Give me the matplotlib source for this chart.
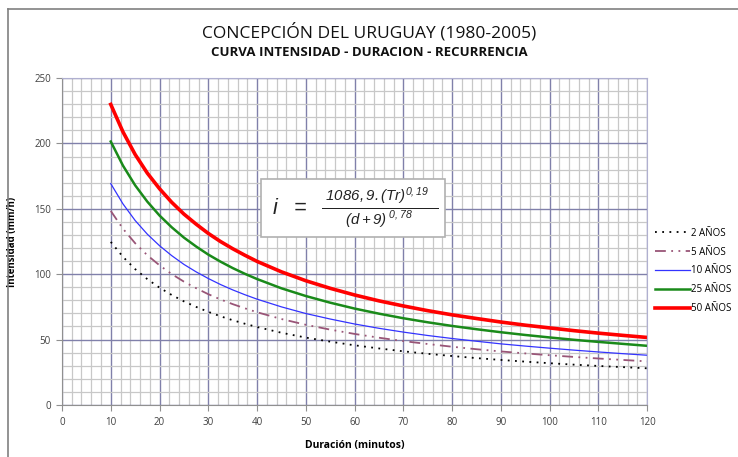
import matplotlib.pyplot as plt
from matplotlib.lines import Line2D
from matplotlib.ticker import MultipleLocator

# duracion (minutos) y intensidad (mm/h)
duracion = [10, 12.5, 15, 17.5, 20, 22.5, 25, 27.5, 30, 32.5, 35, 37.5, 40, 45, 50, 55, 60, 65, 70, 75,
            80, 85, 90, 95, 100, 105, 110, 115, 120]
tr2 = [124.7, 113.3, 103.9, 96.2, 89.7, 84.1, 79.2, 75.0, 71.2, 67.8, 64.8, 62.1, 59.6, 55.2, 51.5, 48.4,
       45.6, 43.2, 41.0, 39.1, 37.4, 35.8, 34.4, 33.1, 31.9, 30.8, 29.8, 28.9, 28.0]
tr5 = [148.4, 134.8, 123.7, 114.5, 106.8, 100.1, 94.3, 89.3, 84.7, 80.7, 77.1, 73.9, 70.9, 65.7, 61.3, 57.6,
       54.3, 51.4, 48.8, 46.6, 44.5, 42.6, 40.9, 39.4, 38.0, 36.7, 35.5, 34.4, 33.3]
tr10 = [169.3, 153.8, 141.1, 130.6, 121.8, 114.2, 107.5, 101.8, 96.7, 92.1, 88.0, 84.3, 80.9, 75.0, 69.9, 65.7,
        61.9, 58.6, 55.7, 53.1, 50.8, 48.7, 46.7, 45.0, 43.4, 41.9, 40.5, 39.2, 38.0]
tr25 = [201.5, 183.1, 168.0, 155.5, 144.9, 135.9, 128.0, 121.2, 115.0, 109.6, 104.7, 100.3, 96.3, 89.2, 83.3, 78.2,
        73.7, 69.8, 66.3, 63.2, 60.4, 57.9, 55.6, 53.5, 51.6, 49.8, 48.2, 46.7, 45.2]
tr50 = [229.9, 208.9, 191.6, 177.3, 165.4, 155.0, 146.0, 138.3, 131.2, 125.0, 119.5, 114.5, 109.8, 101.8, 95.0, 89.2,
        84.1, 79.6, 75.7, 72.1, 68.9, 66.1, 63.4, 61.0, 58.9, 56.8, 54.9, 53.2, 51.6]
etiquetas = ['2 AÑOS', '5 AÑOS', '10 AÑOS', '25 AÑOS', '50 AÑOS']

plt.rcParams['font.family'] = ['Open Sans', 'DejaVu Sans']
plt.rcParams['mathtext.fontset'] = 'custom'
plt.rcParams['mathtext.rm'] = 'Liberation Sans:italic'
plt.rcParams['mathtext.it'] = 'Liberation Sans:italic'

fig = plt.figure(figsize=(7.38, 4.57), dpi=100)
ax = fig.add_axes([0.084, 0.114, 0.793, 0.715])

# marco exterior (solo arriba e izquierda visibles)
fig.add_artist(Line2D([0.011, 1.0], [0.980, 0.980], color='#808080', lw=1.2))
fig.add_artist(Line2D([0.011, 0.011], [0.0, 0.980], color='#808080', lw=1.2))

ax.plot(duracion, tr2, color='black', lw=1.3, linestyle=(0, (1, 3)), label=etiquetas[0])
ax.plot(duracion, tr5, color='#995577', lw=1.3, linestyle=(0, (6, 3, 1, 3, 1, 3)), label=etiquetas[1])
ax.plot(duracion, tr10, color='#3333ff', lw=0.9, label=etiquetas[2])
ax.plot(duracion, tr25, color='#1a8a1a', lw=1.8, label=etiquetas[3])
ax.plot(duracion, tr50, color='#ff0000', lw=2.6, label=etiquetas[4])

ax.set_xlim(0, 120)
ax.set_ylim(0, 250)
ax.xaxis.set_major_locator(MultipleLocator(10))
ax.xaxis.set_minor_locator(MultipleLocator(2))
ax.yaxis.set_major_locator(MultipleLocator(50))
ax.yaxis.set_minor_locator(MultipleLocator(10))
ax.grid(which='minor', color='#c8c8c8', lw=0.9)
ax.grid(which='major', color='#8080aa', lw=1.0)
ax.set_axisbelow(True)
for s in ['top', 'right']:
    ax.spines[s].set_color('#b0b0d0')
for s in ['left', 'bottom']:
    ax.spines[s].set_color('#909090')
ax.tick_params(which='both', length=0, labelsize=7, colors='#404040')
ax.tick_params(axis='y', which='major', length=4, direction='out', color='#909090', pad=4)
ax.tick_params(axis='x', which='major', length=4, direction='out', color='#909090', pad=5)

ax.set_xlabel('Duración (minutos)', fontsize=7.5, fontweight='bold')
ax.set_ylabel('Intensidad (mm/h)', fontsize=7, fontweight='bold')
ax.xaxis.set_label_coords(0.5, -0.107)
ax.yaxis.set_label_coords(-0.075, 0.5)

fig.text(0.5, 0.93, 'CONCEPCIÓN DEL URUGUAY (1980-2005)', ha='center', va='center',
         fontsize=12.5, color='#111111')
fig.text(0.5, 0.885, 'CURVA INTENSIDAD - DURACION - RECURRENCIA', ha='center', va='center',
         fontsize=9.5, fontweight='bold', color='#111111')

ax.text(0.497, 0.602, r'$\ i\ \ =\ \ \frac{\ 1086,9.(Tr)^{0,19}\ \ }{(d+9)^{\ 0,78}}\ \ \ $',
        transform=ax.transAxes, ha='center', va='center', fontsize=15.5, color='#222222',
        bbox=dict(boxstyle='square,pad=0.3', fc='white', ec='#b0b0b0', lw=1.2))

ax.legend(loc='center left', bbox_to_anchor=(1.0, 0.41), frameon=False, fontsize=7,
          handlelength=3.6, handletextpad=0.1, labelspacing=0.8, borderaxespad=0.4)

fig.savefig('out.png', dpi=100)
